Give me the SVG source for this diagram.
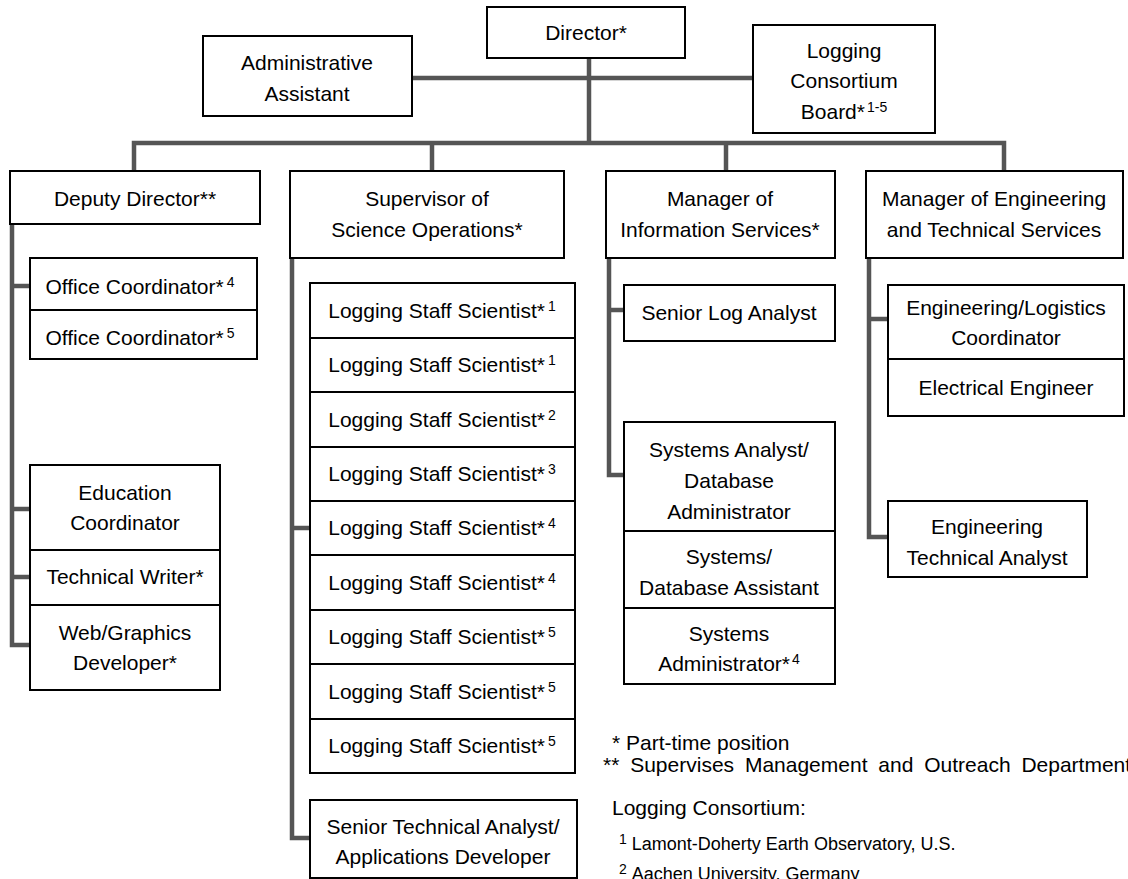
<svg xmlns="http://www.w3.org/2000/svg" width="1128" height="879" viewBox="0 0 1128 879">
  <style>
    .box { fill: #ffffff; stroke: #000000; stroke-width: 2; }
    .div { stroke: #000000; stroke-width: 2; fill: none; }
    .lbl { font-family: "Liberation Sans", Arial, Helvetica, sans-serif; font-size: 21px; fill: #000000; text-anchor: middle; }
    .note { font-family: "Liberation Sans", Arial, Helvetica, sans-serif; font-size: 21px; fill: #000000; }
    .small { font-family: "Liberation Sans", Arial, Helvetica, sans-serif; font-size: 18px; fill: #000000; }
    .sup { font-size: 14px; }
    .wire { fill: none; stroke: #555555; stroke-width: 4.5; stroke-linejoin: miter; stroke-linecap: butt; }
  </style>
  <rect width="1128" height="879" fill="#ffffff"/>

  <!-- connectors -->
  <g id="connectors">
    <path class="wire" d="M589,58 V143"/>
    <path class="wire" d="M412,78 H753"/>
    <path class="wire" d="M134,171 V143 H1004 V171"/>
    <path class="wire" d="M432,143 V171"/>
    <path class="wire" d="M726,143 V171"/>
    <!-- deputy director branch -->
    <path class="wire" d="M12,224 V645 H30"/>
    <path class="wire" d="M12,286 H30"/>
    <path class="wire" d="M12,509 H30"/>
    <path class="wire" d="M12,577 H30"/>
    <!-- science operations branch -->
    <path class="wire" d="M292,258 V838 H310"/>
    <path class="wire" d="M292,528 H310"/>
    <!-- information services branch -->
    <path class="wire" d="M609,258 V475 H624"/>
    <path class="wire" d="M609,310 H624"/>
    <!-- engineering branch -->
    <path class="wire" d="M869,258 V537 H888"/>
    <path class="wire" d="M869,319 H888"/>
  </g>

  <!-- top level -->
  <g id="director">
    <rect class="box" x="487" y="7" width="198" height="51"/>
    <text class="lbl" x="586" y="40">Director*</text>
  </g>
  <g id="admin-assistant">
    <rect class="box" x="203" y="36" width="209" height="80"/>
    <text class="lbl" x="307" y="70">Administrative</text>
    <text class="lbl" x="307" y="101">Assistant</text>
  </g>
  <g id="consortium-board">
    <rect class="box" x="753" y="25" width="182" height="108"/>
    <text class="lbl" x="844" y="58">Logging</text>
    <text class="lbl" x="844" y="88">Consortium</text>
    <text class="lbl" x="844" y="119">Board*<tspan class="sup" dx="2" dy="-7">1-5</tspan></text>
  </g>

  <!-- department heads -->
  <g id="deputy-director">
    <rect class="box" x="10" y="171" width="250" height="53"/>
    <text class="lbl" x="135" y="206">Deputy Director**</text>
  </g>
  <g id="science-supervisor">
    <rect class="box" x="290" y="171" width="274" height="87"/>
    <text class="lbl" x="427" y="206">Supervisor of</text>
    <text class="lbl" x="427" y="237">Science Operations*</text>
  </g>
  <g id="info-manager">
    <rect class="box" x="606" y="171" width="229" height="87"/>
    <text class="lbl" x="720" y="206">Manager of</text>
    <text class="lbl" x="720" y="237">Information Services*</text>
  </g>
  <g id="eng-manager">
    <rect class="box" x="866" y="171" width="257" height="87"/>
    <text class="lbl" x="994" y="206">Manager of Engineering</text>
    <text class="lbl" x="994" y="237">and Technical Services</text>
  </g>

  <!-- deputy director staff -->
  <g id="office-coordinators">
    <rect class="box" x="30" y="258" width="227" height="101"/>
    <line class="div" x1="30" y1="310" x2="257" y2="310"/>
    <text class="lbl" x="140" y="294">Office Coordinator*<tspan class="sup" dx="3" dy="-7">4</tspan></text>
    <text class="lbl" x="140" y="345">Office Coordinator*<tspan class="sup" dx="3" dy="-7">5</tspan></text>
  </g>
  <g id="outreach-staff">
    <rect class="box" x="30" y="465" width="190" height="225"/>
    <line class="div" x1="30" y1="550" x2="220" y2="550"/>
    <line class="div" x1="30" y1="605" x2="220" y2="605"/>
    <text class="lbl" x="125" y="500">Education</text>
    <text class="lbl" x="125" y="530">Coordinator</text>
    <text class="lbl" x="125" y="584">Technical Writer*</text>
    <text class="lbl" x="125" y="640">Web/Graphics</text>
    <text class="lbl" x="125" y="670">Developer*</text>
  </g>

  <!-- science operations staff -->
  <g id="staff-scientists">
    <rect class="box" x="310" y="283" width="265" height="490"/>
    <line class="div" x1="310" y1="338" x2="575" y2="338"/>
    <line class="div" x1="310" y1="392" x2="575" y2="392"/>
    <line class="div" x1="310" y1="447" x2="575" y2="447"/>
    <line class="div" x1="310" y1="501" x2="575" y2="501"/>
    <line class="div" x1="310" y1="555" x2="575" y2="555"/>
    <line class="div" x1="310" y1="610" x2="575" y2="610"/>
    <line class="div" x1="310" y1="664" x2="575" y2="664"/>
    <line class="div" x1="310" y1="719" x2="575" y2="719"/>
    <text class="lbl" x="442" y="318">Logging Staff Scientist*<tspan class="sup" dx="3" dy="-7">1</tspan></text>
    <text class="lbl" x="442" y="372">Logging Staff Scientist*<tspan class="sup" dx="3" dy="-7">1</tspan></text>
    <text class="lbl" x="442" y="427">Logging Staff Scientist*<tspan class="sup" dx="3" dy="-7">2</tspan></text>
    <text class="lbl" x="442" y="481">Logging Staff Scientist*<tspan class="sup" dx="3" dy="-7">3</tspan></text>
    <text class="lbl" x="442" y="535">Logging Staff Scientist*<tspan class="sup" dx="3" dy="-7">4</tspan></text>
    <text class="lbl" x="442" y="590">Logging Staff Scientist*<tspan class="sup" dx="3" dy="-7">4</tspan></text>
    <text class="lbl" x="442" y="644">Logging Staff Scientist*<tspan class="sup" dx="3" dy="-7">5</tspan></text>
    <text class="lbl" x="442" y="699">Logging Staff Scientist*<tspan class="sup" dx="3" dy="-7">5</tspan></text>
    <text class="lbl" x="442" y="753">Logging Staff Scientist*<tspan class="sup" dx="3" dy="-7">5</tspan></text>
  </g>
  <g id="senior-technical-analyst">
    <rect class="box" x="310" y="800" width="267" height="78"/>
    <text class="lbl" x="443" y="834">Senior Technical Analyst/</text>
    <text class="lbl" x="443" y="864">Applications Developer</text>
  </g>

  <!-- information services staff -->
  <g id="senior-log-analyst">
    <rect class="box" x="624" y="285" width="211" height="56"/>
    <text class="lbl" x="729" y="320">Senior Log Analyst</text>
  </g>
  <g id="systems-staff">
    <rect class="box" x="624" y="422" width="211" height="262"/>
    <line class="div" x1="624" y1="531" x2="835" y2="531"/>
    <line class="div" x1="624" y1="608" x2="835" y2="608"/>
    <text class="lbl" x="729" y="457">Systems Analyst/</text>
    <text class="lbl" x="729" y="488">Database</text>
    <text class="lbl" x="729" y="519">Administrator</text>
    <text class="lbl" x="729" y="564">Systems/</text>
    <text class="lbl" x="729" y="595">Database Assistant</text>
    <text class="lbl" x="729" y="641">Systems</text>
    <text class="lbl" x="729" y="671">Administrator*<tspan class="sup" dx="2" dy="-7">4</tspan></text>
  </g>

  <!-- engineering staff -->
  <g id="engineering-staff">
    <rect class="box" x="888" y="285" width="236" height="131"/>
    <line class="div" x1="888" y1="359" x2="1124" y2="359"/>
    <text class="lbl" x="1006" y="315">Engineering/Logistics</text>
    <text class="lbl" x="1006" y="345">Coordinator</text>
    <text class="lbl" x="1006" y="395">Electrical Engineer</text>
  </g>
  <g id="eng-technical-analyst">
    <rect class="box" x="888" y="501" width="199" height="76"/>
    <text class="lbl" x="987" y="534">Engineering</text>
    <text class="lbl" x="987" y="565">Technical Analyst</text>
  </g>

  <!-- footnotes -->
  <g id="legend">
    <text class="note" x="612" y="750">* Part-time position</text>
    <text class="note" x="603" y="772" word-spacing="5">** Supervises Management and Outreach Department</text>
    <text class="note" x="612" y="815">Logging Consortium:</text>
    <text class="small" x="619" y="850"><tspan class="sup" dy="-6">1</tspan><tspan dx="5" dy="6">Lamont-Doherty Earth Observatory, U.S.</tspan></text>
    <text class="small" x="619" y="880"><tspan class="sup" dy="-6">2</tspan><tspan dx="5" dy="6">Aachen University, Germany</tspan></text>
  </g>
</svg>
